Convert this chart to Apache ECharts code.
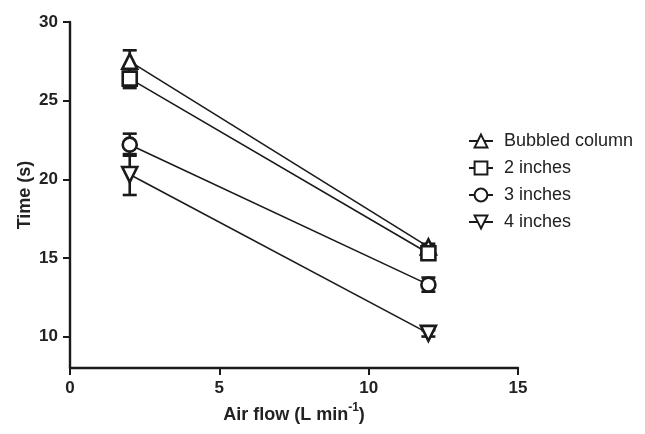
<!DOCTYPE html>
<html>
<head>
<meta charset="utf-8">
<script src="https://cdn.jsdelivr.net/npm/echarts@6/dist/echarts.min.js"></script>
<style>html,body{margin:0;padding:0;background:#fff}#c{width:645px;height:434px}</style>
</head>
<body>
<div id="c"></div>
<script>
const airFlow = [2, 12];
const seriesNames = ['Bubbled column', '2 inches', '3 inches', '4 inches'];
const bubbledMean = [27.5, 15.7];
const bubbledErr = [0.7, 0.2];
const in2Mean = [26.4, 15.3];
const in2Err = [0.6, 0.3];
const in3Mean = [22.2, 13.3];
const in3Err = [0.7, 0.45];
const in4Mean = [20.3, 10.2];
const in4Err = [1.3, 0.2];
const yTicks = [10, 15, 20, 25, 30];
const xTicks = [0, 5, 10, 15];

const means = [bubbledMean, in2Mean, in3Mean, in4Mean];
const errs = [bubbledErr, in2Err, in3Err, in4Err];
const symbols = ['triangle', 'rect', 'circle', 'triangle'];
const rotates = [0, 0, 0, 180];
const sizes = [15, 14, 14, 15];
const ink = '#1a1a1a';

const series = [];
means.forEach((m, i) => {
  const errData = airFlow.map((x, j) => [x, m[j] - errs[i][j], m[j] + errs[i][j]]);
  series.push({
    type: 'custom',
    z: 1,
    silent: true,
    data: errData,
    renderItem: (params, api) => {
      const x = api.value(0);
      const lo = api.coord([x, api.value(1)]);
      const hi = api.coord([x, api.value(2)]);
      const w = 7;
      const st = { stroke: ink, lineWidth: 2.6 };
      return {
        type: 'group',
        children: [
          { type: 'line', shape: { x1: lo[0], y1: lo[1], x2: hi[0], y2: hi[1] }, style: st },
          { type: 'line', shape: { x1: lo[0] - w, y1: lo[1], x2: lo[0] + w, y2: lo[1] }, style: st },
          { type: 'line', shape: { x1: hi[0] - w, y1: hi[1], x2: hi[0] + w, y2: hi[1] }, style: st }
        ]
      };
    }
  });
});
means.forEach((m, i) => {
  series.push({
    name: seriesNames[i],
    type: 'line',
    z: 3,
    data: airFlow.map((x, j) => [x, m[j]]),
    symbol: symbols[i],
    symbolRotate: rotates[i],
    symbolSize: sizes[i],
    showAllSymbol: true,
    lineStyle: { color: ink, width: 1.6 },
    itemStyle: { color: '#fff', borderColor: ink, borderWidth: 2.6 },
    emphasis: { disabled: true },
    animation: false
  });
});

const chart = echarts.init(document.getElementById('c'));
chart.setOption({
  animation: false,
  backgroundColor: '#fff',
  grid: { left: 70, right: 127, top: 22, bottom: 66 },
  legend: {
    orient: 'vertical',
    left: 463,
    top: 127,
    itemWidth: 24,
    itemHeight: 16,
    itemGap: 9,
    data: seriesNames,
    textStyle: { fontFamily: 'Liberation Sans, Arial', fontSize: 18, color: '#222', padding: [0, 0, 0, 6] }
  },
  xAxis: {
    type: 'value',
    min: 0,
    max: 15,
    interval: 5,
    name: '{t|Air flow (L min}{s|-1}{t|)}',
    nameLocation: 'middle',
    nameGap: 34,
    nameTextStyle: {
      rich: {
        t: { fontFamily: 'Liberation Sans, Arial', fontSize: 18, fontWeight: 'bold', color: '#222', lineHeight: 22, verticalAlign: 'bottom' },
        s: { fontFamily: 'Liberation Sans, Arial', fontSize: 12, fontWeight: 'bold', color: '#222', lineHeight: 12, verticalAlign: 'top' }
      }
    },
    splitLine: { show: false },
    axisLine: { lineStyle: { color: ink, width: 2.4 } },
    axisTick: { length: 7, lineStyle: { color: ink, width: 2 }, customValues: xTicks },
    axisLabel: { customValues: xTicks, margin: 12, fontFamily: 'Liberation Sans, Arial', fontSize: 17, fontWeight: 'bold', color: '#222' }
  },
  yAxis: {
    type: 'value',
    min: 8,
    max: 30,
    name: 'Time (s)',
    nameLocation: 'middle',
    nameGap: 36,
    nameMoveOverlap: false,
    nameTextStyle: { fontFamily: 'Liberation Sans, Arial', fontSize: 18, fontWeight: 'bold', color: '#222' },
    splitLine: { show: false },
    axisLine: { show: true, lineStyle: { color: ink, width: 2.4 } },
    axisTick: { show: true, length: 7, lineStyle: { color: ink, width: 2 }, customValues: yTicks },
    axisLabel: { customValues: yTicks, margin: 12, fontFamily: 'Liberation Sans, Arial', fontSize: 17, fontWeight: 'bold', color: '#222' }
  },
  series: series
});
</script>
</body>
</html>
